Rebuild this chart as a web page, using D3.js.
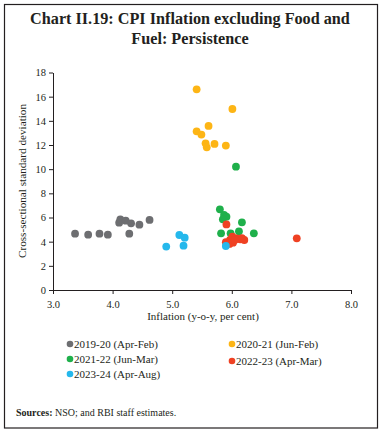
<!DOCTYPE html>
<html>
<head>
<meta charset="utf-8">
<script src="https://cdn.jsdelivr.net/npm/d3@7"></script>
<style>
    body { margin: 0; background: #fff; }
    text { font-family: "Liberation Serif", "DejaVu Serif", serif; fill: #231f20; }
</style>
</head>
<body>
<div id="chart"></div>
<script>
// series: [inflation (y-o-y, per cent), cross-sectional std dev]
const fy2019_20 = [
    [3.37, 4.66], [3.59, 4.58], [3.78, 4.66], [3.92, 4.58], [4.11, 5.57], [4.13, 5.85],
    [4.22, 5.74], [4.31, 5.52], [4.28, 4.66], [4.45, 5.41], [4.62, 5.80]
];
const fy2020_21 = [
    [5.41, 16.61], [6.01, 14.98], [5.61, 13.58], [5.41, 13.13], [5.49, 12.86],
    [5.56, 12.14], [5.58, 11.81], [5.71, 12.09], [5.90, 11.95]
];
const fy2021_22 = [
    [6.07, 10.21], [5.80, 6.68], [5.87, 6.21], [5.91, 6.07], [5.85, 5.85],
    [6.17, 5.60], [5.82, 4.69], [5.98, 4.69], [6.12, 4.86], [6.37, 4.69]
];
const fy2022_23 = [
    [5.91, 5.43], [7.09, 4.28], [5.90, 3.95], [5.97, 4.14], [6.01, 4.41], [6.02, 3.92],
    [6.08, 4.28], [6.14, 4.19], [6.21, 4.14], [5.96, 3.81], [6.05, 4.14], [6.17, 4.30]
];
const fy2023_24 = [
    [4.90, 3.59], [5.12, 4.55], [5.21, 4.33], [5.19, 3.67], [5.90, 3.64]
];

const seriesNames = ["2019-20 (Apr-Feb)", "2020-21 (Jun-Feb)", "2021-22 (Jun-Mar)",
    "2022-23 (Apr-Mar)", "2023-24 (Apr-Aug)"];
const seriesData = [fy2019_20, fy2020_21, fy2021_22, fy2022_23, fy2023_24];
const seriesColors = ["#6d6e71", "#fdb515", "#1fb04b", "#ef4123", "#25b8ec"];

const xTicks = [3, 4, 5, 6, 7, 8];
const yTicks = [0, 2, 4, 6, 8, 10, 12, 14, 16, 18];

const width = 381, height = 435;

const svg = d3.select("#chart").append("svg")
    .attr("width", width)
    .attr("height", height);

// outer frame
svg.append("rect")
    .attr("x", 4.5).attr("y", 4.5)
    .attr("width", 373).attr("height", 423.5)
    .attr("fill", "none")
    .attr("stroke", "#231f20")
    .attr("stroke-width", 1.2);

// title
const title = svg.append("text")
    .attr("text-anchor", "middle")
    .attr("font-size", 16.2)
    .attr("font-weight", "bold");
title.append("tspan").attr("x", 190).attr("y", 24).text("Chart II.19: CPI Inflation excluding Food and");
title.append("tspan").attr("x", 190).attr("y", 44).text("Fuel: Persistence");

const x = d3.scaleLinear().domain([3, 8]).range([53, 351]);
const y = d3.scaleLinear().domain([0, 18]).range([290, 72.5]);

const xAxis = svg.append("g")
    .attr("transform", "translate(0,290)")
    .call(d3.axisBottom(x).tickValues(xTicks).tickFormat(d3.format(".1f")).tickSize(4).tickSizeOuter(0));

const yAxis = svg.append("g")
    .attr("transform", "translate(53,0)")
    .call(d3.axisLeft(y).tickValues(yTicks).tickSize(4).tickSizeOuter(0));

[xAxis, yAxis].forEach(a => {
    a.selectAll("path, line").attr("stroke", "#231f20").attr("stroke-width", 1);
    a.selectAll("text").attr("font-size", 10.5).attr("fill", "#231f20")
        .style("font-family", "'Liberation Serif', serif");
});
xAxis.selectAll("text").attr("dy", "1.05em");

svg.append("text")
    .attr("x", 203).attr("y", 320)
    .attr("text-anchor", "middle")
    .attr("font-size", 11)
    .text("Inflation (y-o-y, per cent)");

svg.append("text")
    .attr("transform", "translate(26,181) rotate(-90)")
    .attr("text-anchor", "middle")
    .attr("font-size", 11.2)
    .text("Cross-sectional standard deviation");

// points
seriesData.forEach((data, i) => {
    svg.append("g")
        .selectAll("circle")
        .data(data)
        .join("circle")
        .attr("cx", d => x(d[0]))
        .attr("cy", d => y(d[1]))
        .attr("r", 3.9)
        .attr("fill", seriesColors[i]);
});

// legend
const legendPos = [[70, 344], [232, 344], [70, 359], [232, 361], [70, 374]];
const legend = svg.append("g")
    .selectAll("g")
    .data(seriesNames)
    .join("g")
    .attr("transform", (d, i) => "translate(" + legendPos[i][0] + "," + legendPos[i][1] + ")");
legend.append("circle")
    .attr("r", 3.3)
    .attr("fill", (d, i) => seriesColors[i]);
legend.append("text")
    .attr("x", 4)
    .attr("y", 3.6)
    .attr("font-size", 11)
    .text(d => d);

// source note
const src = svg.append("text")
    .attr("x", 16).attr("y", 416)
    .attr("font-size", 10);
src.append("tspan").attr("font-weight", "bold").text("Sources:");
src.append("tspan").text(" NSO; and RBI staff estimates.");
</script>
</body>
</html>
